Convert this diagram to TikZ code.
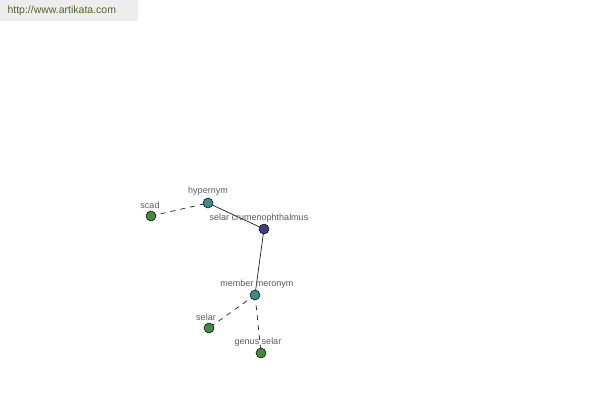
\documentclass[tikz,border=0pt]{standalone}
\usepackage{fontspec}
\setmainfont{Liberation Sans}
\begin{document}
\begin{tikzpicture}[x=1pt,y=-1pt,
  vert/.style={circle,draw=black,line width=0.5pt,minimum size=10pt,inner sep=0pt},
  gn/.style={vert,fill={rgb,255:red,70;green,135;blue,65}},
  tl/.style={vert,fill={rgb,255:red,55;green,140;blue,140}},
  bl/.style={vert,fill={rgb,255:red,60;green,65;blue,135}},
  lbl/.style={font=\fontsize{9}{10}\selectfont,text=black!65},
  dashedge/.style={dashed,dash pattern=on 5pt off 5pt,line width=0.6pt},
  solidedge/.style={line width=0.6pt}]
\useasboundingbox (0,0) rectangle (600,400);
\fill[black!7] (0,0) rectangle (138,21);
\node[font=\fontsize{10.5}{12}\selectfont,text={rgb,255:red,80;green,100;blue,40},anchor=west] (url) at (4,11) {http://www.artikata.com};
\coordinate (cs) at (151,216);
\coordinate (ch) at (208,203);
\coordinate (cc) at (264,229);
\coordinate (cm) at (255,295);
\coordinate (csl) at (209,328);
\coordinate (cg) at (261,353);
\draw[dashedge] (cs) -- (ch);
\draw[solidedge] (ch) -- (cc);
\draw[solidedge] (cc) -- (cm);
\draw[dashedge] (cm) -- (csl);
\draw[dashedge] (cm) -- (cg);
\node[gn] (scad) at (cs) {};
\node[tl] (hyp) at (ch) {};
\node[bl] (crum) at (cc) {};
\node[tl] (mem) at (cm) {};
\node[gn] (selar) at (csl) {};
\node[gn] (genus) at (cg) {};
\node[lbl] (lscad) at (150,205) {scad};
\node[lbl] (lhyp) at (208,191) {hypernym};
\node[lbl] (lcrum) at (259,218) {selar crumenophthalmus};
\node[lbl] (lmem) at (257,284) {member meronym};
\node[lbl] (lselar) at (206,317) {selar};
\node[lbl] (lgenus) at (258,342) {genus selar};
\end{tikzpicture}
\end{document}
